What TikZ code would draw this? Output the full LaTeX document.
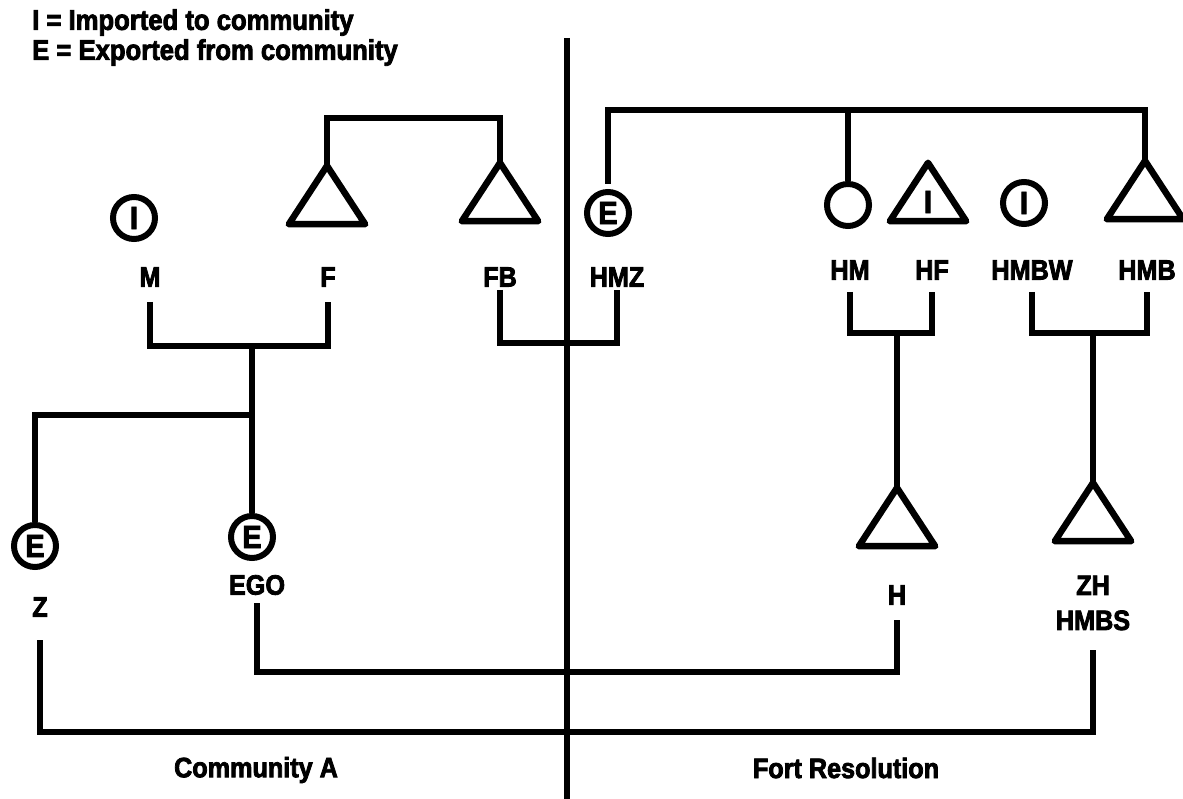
\documentclass[tikz,border=0pt]{standalone}
\usepackage{fontspec}
\setmainfont{Liberation Sans}[BoldFeatures={FakeBold=2.8}, FakeStretch=0.9]
\begin{document}
\begin{tikzpicture}[x=1pt,y=-1pt,
  ln/.style={line width=5.5pt, line join=miter},
  sym/.style={line width=6.5pt, line join=round},
  circsym/.style={circle, draw, line width=6pt, minimum size=42pt, inner sep=0pt, font=\fontsize{32}{32}\selectfont\bfseries},
  tribox/.style={rectangle, minimum width=76pt, minimum height=58pt, inner sep=0pt},
  lab/.style={font=\fontsize{28}{28}\selectfont\bfseries, inner sep=0pt},
]
\useasboundingbox (0,0) rectangle (1183,799);

% legend
\node[anchor=north west, align=left, inner sep=0pt, font=\fontsize{28.5}{30}\selectfont\bfseries] (legend) at (32,9) {I = Imported to community\\E = Exported from community};

% divider
\coordinate (dTop) at (567,38);
\coordinate (dBot) at (567,799);
\draw[ln] (dTop) -- (dBot);

% symbols
\node[circsym] (M) at (134,218) {I};
\node[tribox] (F) at (327,195) {};
\node[tribox] (FB) at (500,192) {};
\node[circsym] (HMZ) at (608,213) {E};
\node[circsym] (HM) at (848,205) {};
\node[tribox] (HF) at (928,192) {};
\node[font=\fontsize{32}{32}\selectfont\bfseries, inner sep=0pt] (HFi) at (928,202) {I};
\node[circsym] (HMBW) at (1024,203) {I};
\node[tribox] (HMB) at (1145,190) {};
\node[circsym] (Z) at (35,546) {E};
\node[circsym] (EGO) at (252,537) {E};
\node[tribox] (H) at (897,517) {};
\node[tribox] (ZH) at (1093,512) {};
\foreach \n in {F,FB,HF,HMB,H,ZH}
  \draw[sym] (\n.south west) -- (\n.north) -- (\n.south east) -- cycle;

% labels
\node[lab] (lM) at (150,277) {M};
\node[lab] (lF) at (328,277) {F};
\node[lab] (lFB) at (500,277) {FB};
\node[lab] (lHMZ) at (617,277) {HMZ};
\node[lab] (lHM) at (850,270) {HM};
\node[lab] (lHF) at (932,270) {HF};
\node[lab] (lHMBW) at (1032,270) {HMBW};
\node[lab] (lHMB) at (1147,270) {HMB};
\node[lab] (lZ) at (40,607) {Z};
\node[lab] (lEGO) at (257,585) {EGO};
\node[lab] (lH) at (897,595) {H};
\node[lab, align=center, font=\fontsize{28}{35}\selectfont\bfseries] (lZH) at (1093,603) {ZH\\HMBS};
\node[lab] (cA) at (256,770) {Community A};
\node[lab] (cFR) at (846,768) {Fort Resolution};

% levels
\coordinate (yTopL) at (0,118);
\coordinate (yTopR) at (0,110);
\coordinate (yLs1) at (0,302);
\coordinate (yM1) at (0,346);
\coordinate (yLs2) at (0,290);
\coordinate (yM2) at (0,343);
\coordinate (yLs3) at (0,292);
\coordinate (yM3) at (0,333);
\coordinate (ySib) at (0,415);
\coordinate (yEGOs) at (0,603);
\coordinate (yBot1) at (0,672);
\coordinate (yHs) at (0,620);
\coordinate (yZs) at (0,640);
\coordinate (yBot2) at (0,732);
\coordinate (yZHs) at (0,650);

% sibling bars
\draw[ln] (F.north) -- (F.north |- yTopL) -- (FB.north |- yTopL) -- (FB.north);
\draw[ln] ([yshift=5pt]HMZ.north) -- (HMZ.north |- yTopR) -- (HMB.north |- yTopR) -- (HMB.north);
\draw[ln] (HM.north) -- (HM.north |- yTopR);

% marriages
\draw[ln] (lM |- yLs1) -- (lM |- yM1) -- (lF |- yM1) -- (lF |- yLs1);
\draw[ln] (EGO |- yM1) -- (EGO.north);
\draw[ln] (Z.north) -- (Z |- ySib) -- (EGO |- ySib);
\draw[ln] (lFB |- yLs2) -- (lFB |- yM2) -- (lHMZ |- yM2) -- (lHMZ |- yLs2);
\draw[ln] (lHM |- yLs3) -- (lHM |- yM3) -- (lHF |- yM3) -- (lHF |- yLs3);
\draw[ln] (H.north |- yM3) -- (H.north);
\draw[ln] (lHMBW |- yLs3) -- (lHMBW |- yM3) -- (lHMB |- yM3) -- (lHMB |- yLs3);
\draw[ln] (ZH.north |- yM3) -- (ZH.north);

% cross-community links
\draw[ln] (lEGO |- yEGOs) -- (lEGO |- yBot1) -- (lH |- yBot1) -- (lH |- yHs);
\draw[ln] (lZ |- yZs) -- (lZ |- yBot2) -- (lZH |- yBot2) -- (lZH |- yZHs);
\end{tikzpicture}
\end{document}
